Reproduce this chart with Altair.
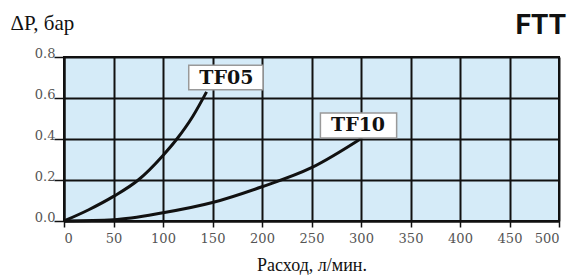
import altair as alt
import pandas as pd

# Data
tf05_flow = [0, 25, 50, 75, 100, 114, 130, 144]
tf05_dp = [0.0, 0.055, 0.12, 0.20, 0.32, 0.40, 0.51, 0.63]
tf10_flow = [0, 50, 100, 150, 200, 250, 301]
tf10_dp = [0.0, 0.006, 0.04, 0.09, 0.167, 0.26, 0.405]

label_text = ["TF05", "TF10"]
label_x = [164, 297]
label_y = [0.70, 0.466]
box_x1 = [126, 259]
box_x2 = [201, 336]
box_y1 = [0.64, 0.405]
box_y2 = [0.76, 0.527]

brand = ["FTT"]

x_ticks = list(range(0, 501, 50))
y_ticks = [0.0, 0.2, 0.4, 0.6, 0.8]

curves = pd.DataFrame(
    [{"flow": f, "dp": d, "series": "TF05"} for f, d in zip(tf05_flow, tf05_dp)]
    + [{"flow": f, "dp": d, "series": "TF10"} for f, d in zip(tf10_flow, tf10_dp)]
)
labels = pd.DataFrame({"text": label_text, "x": label_x, "y": label_y,
                       "x1": box_x1, "x2": box_x2, "y1": box_y1, "y2": box_y2})
brand_df = pd.DataFrame({"t": brand})

W, H = 495, 164

xscale = alt.Scale(domain=[0, 500], nice=False)
yscale = alt.Scale(domain=[0, 0.8], nice=False)

SERIF = "Liberation Serif"
WIDE = "DejaVu Serif"

xaxis = alt.Axis(values=x_ticks, title="Расход, л/мин.", grid=True, gridColor="#111",
                 gridWidth=2, domainColor="#111", domainWidth=2, tickColor="#111",
                 tickWidth=1.5, tickSize=6, labelFont=WIDE, labelFontSize=13,
                 labelColor="#555", labelPadding=5, titleFont=SERIF,
                 titleFontSize=18, titleFontWeight="normal", titleColor="#111",
                 titlePadding=11)
yaxis = alt.Axis(values=y_ticks, format=".1f", title="ΔP, бар", grid=True, gridColor="#111",
                 gridWidth=2, domainColor="#111", domainWidth=2, tickColor="#111",
                 tickWidth=1.5, tickSize=10, labelFont=WIDE, labelFontSize=13,
                 labelColor="#555", labelPadding=-1, labelBaseline="alphabetic",
                 titleFont=SERIF, titleFontSize=21, titleFontWeight="normal",
                 titleColor="#111", titleAngle=0, titleAlign="left",
                 titleBaseline="alphabetic", titleX=-54, titleY=-28)

lines = alt.Chart(curves).mark_line(color="#111", strokeWidth=3, interpolate="monotone").encode(
    x=alt.X("flow:Q", scale=xscale, axis=xaxis),
    y=alt.Y("dp:Q", scale=yscale, axis=yaxis),
    detail="series:N",
)

boxes = alt.Chart(labels).mark_rect(fill="white", stroke="#999", strokeWidth=1.5).encode(
    x=alt.X("x1:Q", scale=xscale), x2="x2:Q",
    y=alt.Y("y1:Q", scale=yscale), y2="y2:Q",
)

texts = alt.Chart(labels).mark_text(font=WIDE, fontSize=19, fontWeight="bold",
                                    color="#111", baseline="middle").encode(
    x=alt.X("x:Q", scale=xscale), y=alt.Y("y:Q", scale=yscale), text="text:N"
)

brand_text = alt.Chart(brand_df).mark_text(
    font="Roboto", fontSize=28, fontWeight="bold", color="#111",
    align="right", baseline="alphabetic"
).encode(x=alt.value(W + 7), y=alt.value(-23), text="t:N")

chart = alt.layer(lines, boxes, texts, brand_text).properties(
    width=W, height=H,
    autosize=alt.AutoSizeParams(type="none"),
    padding={"left": 56, "top": 49, "right": 10, "bottom": 56},
).configure_view(fill="#d5ebf8", stroke="#111", strokeWidth=2)

chart.save("out.html", embed_options={"renderer": "svg", "actions": False})
